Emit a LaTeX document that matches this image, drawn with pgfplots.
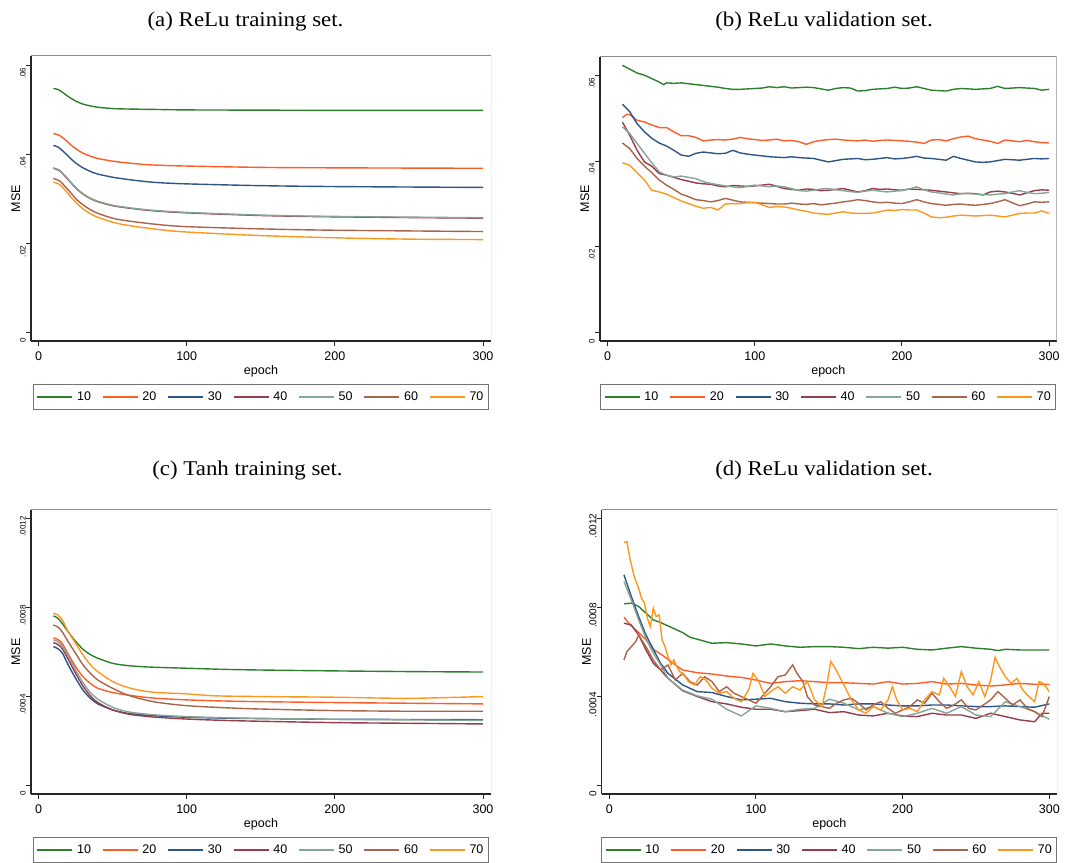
\documentclass[border=0pt]{standalone}
\usepackage{pgfplots}
\pgfplotsset{compat=1.18}
\usepackage{fontspec}
\setmainfont{Liberation Sans}
\newfontfamily\timesfont{Liberation Serif}
\usepackage{graphicx}

\definecolor{c10}{RGB}{44,128,44}
\definecolor{c20}{RGB}{255,92,40}
\definecolor{c30}{RGB}{45,85,135}
\definecolor{c40}{RGB}{150,60,75}
\definecolor{c50}{RGB}{135,165,150}
\definecolor{c60}{RGB}{170,100,75}
\definecolor{c70}{RGB}{255,150,30}

\pgfplotsset{
  statastyle/.style={
    scale only axis,
    anchor=south west,
    axis x line*=bottom, axis y line*=left,
    axis line style={line width=1.3pt, color=black!85},
    tick align=outside,
    major tick length=5pt,
    tick style={line width=1pt, color=black!85},
    xtick={0,100,200,300},
    minor tick num=0,
    scaled ticks=false,
    /pgf/number format/assume math mode=true,
    xticklabel style={font=\fontsize{12.5}{14}\selectfont, inner sep=0pt, anchor=north, yshift=-6pt},
    yticklabel style={rotate=90, anchor=south, inner sep=0pt, xshift=-8pt},
    xlabel={epoch},
    ylabel={MSE},
    every axis x label/.style={at={(axis description cs:0.5,-0.118)}, anchor=base, font=\fontsize{12.5}{14}\selectfont},
    every axis y label/.style={at={(axis description cs:-0.033,0.5)}, anchor=center, rotate=90, font=\fontsize{12.5}{14}\selectfont},
    legend columns=7,
    legend image code/.code={\draw[#1, line width=1.5pt] (0pt,0pt) -- (35pt,0pt);},
    legend style={at={(0.5,-0.151)}, anchor=north, draw=black!55, line width=1pt,
      font=\fontsize{12.5}{14}\selectfont, inner xsep=3pt, inner ysep=5.5pt,
      /tikz/every odd column/.append style={column sep=2pt},
      /tikz/every even column/.append style={column sep=9pt}},
    every axis plot/.append style={line width=1.4pt, mark=none},
    cycle list={{draw=c10},{draw=c20},{draw=c30},{draw=c40},{draw=c50},{draw=c60},{draw=c70}},
  },
  topy/.style={ytick={0,0.02,0.04,0.06}, yticklabels={0,.02,.04,.06}, yticklabel style={font=\fontsize{8}{9}\selectfont}},
  boty/.style={ytick={0,0.0004,0.0008,0.0012}, yticklabels={0,.0004,.0008,.0012}},
}
\newcommand{\grayframe}{\draw[black!45, line width=1pt] (rel axis cs:0,1) -- (rel axis cs:1,1) -- (rel axis cs:1,0);}

\begin{document}
\begin{tikzpicture}
\useasboundingbox (0pt,0pt) rectangle (1083pt,862pt);

% titles
\node[font=\timesfont\fontsize{21}{25}\selectfont, anchor=base] at (245.5pt,835pt) {\scalebox{1.09}[1]{(a) ReLu training set.}};
\node[font=\timesfont\fontsize{21}{25}\selectfont, anchor=base] at (824pt,835pt) {\scalebox{1.09}[1]{(b) ReLu validation set.}};
\node[font=\timesfont\fontsize{21}{25}\selectfont, anchor=base] at (247.5pt,386pt) {\scalebox{1.09}[1]{(c) Tanh training set.}};
\node[font=\timesfont\fontsize{21}{25}\selectfont, anchor=base] at (824pt,386pt) {\scalebox{1.09}[1]{(d) ReLu validation set.}};

% (a)
\begin{axis}[statastyle, topy, at={(31pt,521pt)}, width=460pt, height=285pt,
  xmin=-5.1, xmax=305.4, ymin=-0.00186, ymax=0.0621]
\addplot+[smooth] coordinates {(10,0.0548)(13,0.0546)(16,0.0540)(20,0.0530)(25,0.0520)(30,0.0513)(35,0.0509)(40,0.0506)(50,0.0503)(60,0.0502)(80,0.0501)(100,0.0500)(150,0.04995)(200,0.0499)(300,0.0499)};
\addplot+[smooth] coordinates {(10,0.0447)(14,0.0443)(18,0.0433)(22,0.0421)(26,0.0411)(30,0.0403)(35,0.0396)(40,0.0391)(50,0.0385)(60,0.0381)(70,0.0378)(80,0.0376)(100,0.0374)(150,0.0371)(200,0.0370)(300,0.0369)};
\addplot+[smooth] coordinates {(10,0.0420)(13,0.0417)(17,0.0406)(21,0.0393)(25,0.0381)(30,0.0370)(35,0.0362)(40,0.0356)(50,0.0349)(60,0.0344)(70,0.0340)(80,0.0337)(100,0.0334)(150,0.0330)(200,0.0328)(300,0.0326)};
\addplot+[smooth] coordinates {(10,0.0369)(14,0.0364)(18,0.0351)(22,0.0336)(26,0.0322)(30,0.0311)(35,0.0301)(40,0.0294)(50,0.0285)(60,0.0280)(70,0.0276)(80,0.0273)(100,0.0269)(150,0.0263)(200,0.0260)(300,0.0257)};
\addplot+[smooth] coordinates {(10,0.0370)(14,0.0365)(18,0.0352)(22,0.0337)(26,0.0323)(30,0.0312)(35,0.0302)(40,0.0295)(50,0.0286)(60,0.0281)(70,0.0277)(80,0.0274)(100,0.0270)(150,0.0264)(200,0.0261)(300,0.0258)};
\addplot+[smooth] coordinates {(10,0.0346)(14,0.0341)(18,0.0328)(22,0.0313)(26,0.0298)(30,0.0287)(35,0.0276)(40,0.0268)(50,0.0257)(60,0.0251)(80,0.0243)(100,0.0238)(150,0.0233)(200,0.0230)(300,0.0227)};
\addplot+[smooth] coordinates {(10,0.0338)(14,0.0333)(18,0.0320)(22,0.0304)(26,0.0290)(30,0.0278)(35,0.0267)(40,0.0259)(50,0.0248)(60,0.0241)(80,0.0232)(100,0.0226)(150,0.0218)(200,0.0213)(250,0.0210)(300,0.0209)};
\legend{10,20,30,40,50,60,70}
\grayframe
\end{axis}

% (b)
\begin{axis}[statastyle, topy, at={(600pt,521pt)}, width=456.7pt, height=284.3pt,
  xmin=-5.2, xmax=305.2, ymin=-0.0019, ymax=0.0643]
\addplot+[] coordinates {(10,0.0623)(15,0.0614)(20,0.0605)(25,0.0600)(30,0.0592)(35,0.0584)(38,0.0578)(40,0.0582)(45,0.0581)(50,0.0582)(55,0.0580)(60,0.0578)(65,0.0576)(70,0.0574)(75,0.0572)(80,0.0569)(85,0.0567)(90,0.0567)(95,0.0568)(100,0.0569)(105,0.0570)(110,0.0573)(115,0.0571)(120,0.0573)(125,0.0570)(130,0.0571)(135,0.0572)(140,0.0571)(145,0.0568)(150,0.0565)(155,0.0569)(160,0.0571)(165,0.0570)(170,0.0563)(175,0.0564)(180,0.0567)(185,0.0568)(190,0.0569)(195,0.0572)(200,0.0569)(205,0.0570)(210,0.0573)(215,0.0569)(220,0.0565)(225,0.0564)(230,0.0563)(235,0.0567)(240,0.0569)(245,0.0568)(250,0.0567)(255,0.0568)(260,0.0569)(265,0.0574)(270,0.0569)(275,0.0570)(280,0.0571)(285,0.0570)(290,0.0569)(295,0.0565)(300,0.0567)};
\addplot+[] coordinates {(10,0.0501)(13,0.0509)(15,0.0508)(20,0.0495)(25,0.0491)(30,0.0484)(35,0.0478)(40,0.0478)(45,0.0468)(50,0.0459)(55,0.0459)(60,0.0455)(65,0.0447)(70,0.0449)(75,0.0450)(80,0.0449)(85,0.0451)(90,0.0455)(95,0.0452)(100,0.0450)(105,0.0448)(110,0.0449)(115,0.0451)(120,0.0447)(125,0.0448)(130,0.0445)(135,0.0439)(140,0.0445)(145,0.0448)(150,0.0450)(155,0.0451)(160,0.0449)(165,0.0448)(170,0.0447)(175,0.0449)(180,0.0446)(185,0.0448)(190,0.0449)(195,0.0448)(200,0.0447)(205,0.0446)(210,0.0444)(215,0.0441)(220,0.0449)(225,0.0450)(230,0.0447)(235,0.0452)(240,0.0456)(245,0.0458)(250,0.0452)(255,0.0449)(260,0.0446)(265,0.0441)(270,0.0449)(275,0.0447)(280,0.0445)(285,0.0448)(290,0.0445)(295,0.0443)(300,0.0442)};
\addplot+[] coordinates {(10,0.0532)(15,0.0515)(20,0.0487)(25,0.0468)(30,0.0453)(35,0.0442)(40,0.0435)(45,0.0425)(50,0.0414)(55,0.0411)(60,0.0418)(65,0.0421)(70,0.0419)(75,0.0417)(80,0.0418)(85,0.0425)(90,0.0419)(95,0.0416)(100,0.0414)(105,0.0412)(110,0.0410)(115,0.0409)(120,0.0408)(125,0.0410)(130,0.0408)(135,0.0407)(140,0.0406)(145,0.0402)(150,0.0398)(155,0.0401)(160,0.0404)(165,0.0405)(170,0.0406)(175,0.0403)(180,0.0404)(185,0.0406)(190,0.0408)(195,0.0405)(200,0.0406)(205,0.0408)(210,0.0411)(215,0.0407)(220,0.0406)(225,0.0404)(230,0.0402)(235,0.0411)(240,0.0406)(245,0.0402)(250,0.0398)(255,0.0397)(260,0.0398)(265,0.0401)(270,0.0404)(275,0.0403)(280,0.0402)(285,0.0404)(290,0.0406)(295,0.0405)(300,0.0406)};
\addplot+[] coordinates {(10,0.0491)(15,0.0460)(20,0.0425)(25,0.0398)(30,0.0388)(35,0.0371)(40,0.0367)(45,0.0362)(50,0.0357)(55,0.0353)(60,0.0349)(65,0.0347)(70,0.0346)(75,0.0342)(80,0.0340)(85,0.0343)(90,0.0342)(95,0.0341)(100,0.0342)(105,0.0344)(110,0.0346)(115,0.0341)(120,0.0336)(125,0.0334)(130,0.0332)(135,0.0335)(140,0.0334)(145,0.0331)(150,0.0332)(155,0.0334)(160,0.0336)(165,0.0332)(170,0.0328)(175,0.0331)(180,0.0336)(185,0.0334)(190,0.0335)(195,0.0333)(200,0.0332)(205,0.0335)(210,0.0334)(215,0.0333)(220,0.0332)(225,0.0330)(230,0.0328)(235,0.0326)(240,0.0324)(245,0.0325)(250,0.0324)(255,0.0321)(260,0.0328)(265,0.0330)(270,0.0328)(275,0.0325)(280,0.0321)(285,0.0326)(290,0.0331)(295,0.0333)(300,0.0332)};
\addplot+[] coordinates {(10,0.0480)(15,0.0464)(20,0.0441)(25,0.0418)(30,0.0396)(35,0.0375)(40,0.0367)(45,0.0363)(50,0.0365)(55,0.0362)(60,0.0359)(65,0.0352)(70,0.0348)(75,0.0345)(80,0.0342)(85,0.0340)(90,0.0338)(95,0.0341)(100,0.0344)(105,0.0342)(110,0.0340)(115,0.0342)(120,0.0340)(125,0.0336)(130,0.0331)(135,0.0330)(140,0.0332)(145,0.0335)(150,0.0336)(155,0.0333)(160,0.0331)(165,0.0329)(170,0.0327)(175,0.0330)(180,0.0332)(185,0.0330)(190,0.0328)(195,0.0330)(200,0.0331)(205,0.0335)(210,0.0340)(215,0.0333)(220,0.0328)(225,0.0326)(230,0.0323)(235,0.0321)(240,0.0324)(245,0.0324)(250,0.0323)(255,0.0322)(260,0.0321)(265,0.0323)(270,0.0324)(275,0.0328)(280,0.0331)(285,0.0327)(290,0.0324)(295,0.0325)(300,0.0327)};
\addplot+[] coordinates {(10,0.0442)(15,0.0429)(20,0.0406)(25,0.0388)(30,0.0373)(35,0.0356)(40,0.0344)(45,0.0334)(50,0.0323)(55,0.0317)(60,0.0310)(65,0.0308)(70,0.0305)(75,0.0308)(80,0.0313)(85,0.0309)(90,0.0305)(95,0.0304)(100,0.0303)(105,0.0302)(110,0.0301)(115,0.0300)(120,0.0300)(125,0.0302)(130,0.0300)(135,0.0299)(140,0.0301)(145,0.0298)(150,0.0300)(155,0.0302)(160,0.0305)(165,0.0307)(170,0.0310)(175,0.0308)(180,0.0305)(185,0.0303)(190,0.0304)(195,0.0302)(200,0.0301)(205,0.0305)(210,0.0310)(215,0.0305)(220,0.0301)(225,0.0299)(230,0.0297)(235,0.0299)(240,0.0300)(245,0.0298)(250,0.0297)(255,0.0299)(260,0.0301)(265,0.0305)(270,0.0310)(275,0.0303)(280,0.0296)(285,0.0300)(290,0.0305)(295,0.0304)(300,0.0305)};
\addplot+[] coordinates {(10,0.0396)(15,0.0390)(20,0.0373)(25,0.0356)(30,0.0332)(35,0.0328)(40,0.0323)(45,0.0315)(50,0.0307)(55,0.0301)(60,0.0295)(65,0.0290)(70,0.0292)(75,0.0286)(80,0.0300)(85,0.0301)(90,0.0301)(95,0.0303)(100,0.0304)(105,0.0298)(110,0.0292)(115,0.0294)(120,0.0293)(125,0.0290)(130,0.0286)(135,0.0283)(140,0.0279)(145,0.0277)(150,0.0276)(155,0.0279)(160,0.0282)(165,0.0279)(170,0.0278)(175,0.0278)(180,0.0279)(185,0.0282)(190,0.0286)(195,0.0285)(200,0.0287)(205,0.0286)(210,0.0286)(215,0.0279)(220,0.0270)(225,0.0268)(230,0.0269)(235,0.0272)(240,0.0274)(245,0.0273)(250,0.0272)(255,0.0273)(260,0.0274)(265,0.0272)(270,0.0270)(275,0.0274)(280,0.0278)(285,0.0279)(290,0.0279)(295,0.0284)(300,0.0278)};
\legend{10,20,30,40,50,60,70}
\grayframe
\end{axis}

% (c)
\begin{axis}[statastyle, boty, yticklabel style={font=\fontsize{8}{9}\selectfont}, at={(31pt,68pt)}, width=460pt, height=284pt,
  xmin=-5.1, xmax=305.4, ymin=-0.0000373, ymax=0.001237]
\addplot+[smooth] coordinates {(10,0.000762)(13,0.000752)(16,0.000728)(20,0.000690)(25,0.000648)(30,0.000612)(35,0.000588)(40,0.000572)(50,0.000549)(60,0.000539)(70,0.000534)(80,0.000531)(100,0.000527)(125,0.000522)(150,0.000519)(200,0.000515)(250,0.000512)(300,0.000510)};
\addplot+[smooth] coordinates {(10,0.000663)(13,0.000656)(16,0.000638)(20,0.000591)(25,0.000534)(30,0.000489)(35,0.000459)(40,0.000437)(50,0.000418)(60,0.000407)(70,0.000398)(80,0.000392)(100,0.000385)(125,0.000380)(150,0.000377)(200,0.000373)(250,0.000370)(300,0.000367)};
\addplot+[smooth] coordinates {(10,0.000624)(13,0.000615)(16,0.000596)(20,0.000542)(25,0.000482)(30,0.000429)(35,0.000392)(40,0.000367)(50,0.000340)(60,0.000325)(70,0.000318)(80,0.000313)(100,0.000307)(125,0.000303)(150,0.000301)(200,0.000298)(250,0.000297)(300,0.000296)};
\addplot+[smooth] coordinates {(10,0.000642)(13,0.000634)(16,0.000615)(20,0.000567)(25,0.000504)(30,0.000447)(35,0.000403)(40,0.000373)(50,0.000340)(60,0.000322)(70,0.000313)(80,0.000307)(100,0.000299)(125,0.000293)(150,0.000289)(200,0.000283)(250,0.000280)(300,0.000277)};
\addplot+[smooth] coordinates {(10,0.000654)(13,0.000647)(16,0.000628)(20,0.000582)(25,0.000519)(30,0.000462)(35,0.000418)(40,0.000388)(50,0.000352)(60,0.000332)(70,0.000323)(80,0.000317)(100,0.000310)(125,0.000305)(150,0.000302)(200,0.000298)(250,0.000295)(300,0.000293)};
\addplot+[smooth] coordinates {(10,0.000721)(13,0.000712)(16,0.000690)(20,0.000646)(25,0.000594)(30,0.000542)(35,0.000504)(40,0.000474)(50,0.000437)(60,0.000407)(70,0.000388)(80,0.000374)(100,0.000359)(125,0.000350)(150,0.000344)(200,0.000337)(250,0.000334)(300,0.000334)};
\addplot+[smooth] coordinates {(10,0.000774)(13,0.000766)(16,0.000744)(20,0.000691)(25,0.000639)(30,0.000587)(35,0.000542)(40,0.000512)(50,0.000467)(60,0.000441)(70,0.000426)(80,0.000418)(100,0.000412)(120,0.000403)(150,0.000400)(200,0.000397)(250,0.000392)(300,0.000400)};
\legend{10,20,30,40,50,60,70}
\grayframe
\end{axis}

% (d)
\begin{axis}[statastyle, boty, yticklabel style={font=\fontsize{10}{11}\selectfont}, at={(601.7pt,68pt)}, width=455.3pt, height=284pt,
  xmin=-5.18, xmax=305.25, ymin=-0.0000373, ymax=0.001237]
\addplot+[] coordinates {(10,0.000816)(15,0.000819)(20,0.000804)(25,0.000774)(30,0.000744)(35,0.000732)(40,0.000717)(45,0.000702)(50,0.000687)(55,0.000666)(60,0.000657)(70,0.000639)(80,0.000642)(90,0.000636)(100,0.000627)(110,0.000636)(120,0.000627)(130,0.000621)(140,0.000624)(150,0.000624)(160,0.000621)(170,0.000615)(180,0.000621)(190,0.000617)(200,0.000621)(210,0.000612)(220,0.000609)(230,0.000617)(240,0.000624)(250,0.000617)(260,0.000612)(265,0.000606)(270,0.000612)(280,0.000609)(290,0.000609)(300,0.000609)};
\addplot+[] coordinates {(10,0.000756)(15,0.000717)(20,0.000687)(25,0.000654)(30,0.000612)(35,0.000591)(40,0.000567)(45,0.000542)(50,0.000519)(60,0.000507)(70,0.000501)(80,0.000492)(90,0.000486)(100,0.000474)(110,0.000459)(120,0.000467)(130,0.000471)(140,0.000467)(150,0.000462)(160,0.000462)(170,0.000459)(180,0.000456)(190,0.000467)(200,0.000456)(210,0.000459)(220,0.000467)(230,0.000456)(240,0.000459)(250,0.000452)(260,0.000447)(270,0.000452)(280,0.000459)(290,0.000455)(300,0.000455)};
\addplot+[] coordinates {(10,0.000946)(15,0.000849)(20,0.000759)(25,0.000676)(30,0.000612)(35,0.000549)(40,0.000504)(50,0.000452)(60,0.000422)(70,0.000418)(80,0.000400)(90,0.000385)(100,0.000388)(110,0.000392)(120,0.000377)(130,0.000370)(140,0.000367)(150,0.000367)(160,0.000362)(170,0.000367)(180,0.000367)(190,0.000362)(200,0.000358)(210,0.000358)(220,0.000362)(230,0.000362)(240,0.000358)(250,0.000355)(260,0.000355)(270,0.000358)(280,0.000355)(290,0.000352)(300,0.000367)};
\addplot+[] coordinates {(10,0.000729)(15,0.000721)(20,0.000676)(25,0.000609)(30,0.000549)(35,0.000519)(40,0.000482)(50,0.000426)(60,0.000400)(70,0.000377)(80,0.000367)(90,0.000352)(100,0.000343)(110,0.000343)(120,0.000332)(130,0.000337)(140,0.000343)(150,0.000328)(160,0.000332)(170,0.000317)(180,0.000313)(190,0.000325)(200,0.000313)(210,0.000310)(220,0.000325)(230,0.000317)(240,0.000317)(250,0.000302)(260,0.000325)(270,0.000310)(280,0.000295)(290,0.000287)(295,0.000325)(300,0.000325)};
\addplot+[] coordinates {(10,0.000916)(15,0.000834)(20,0.000744)(25,0.000661)(30,0.000594)(35,0.000542)(40,0.000482)(50,0.000429)(60,0.000403)(70,0.000388)(80,0.000343)(90,0.000313)(100,0.000358)(110,0.000347)(120,0.000332)(130,0.000343)(140,0.000347)(150,0.000388)(160,0.000370)(170,0.000340)(180,0.000355)(190,0.000325)(200,0.000310)(210,0.000325)(220,0.000347)(230,0.000325)(240,0.000355)(250,0.000317)(260,0.000310)(270,0.000377)(280,0.000355)(290,0.000332)(300,0.000298)};
\addplot+[] coordinates {(10,0.000564)(12,0.000602)(15,0.000624)(18,0.000646)(20,0.000676)(22,0.000654)(25,0.000624)(30,0.000564)(35,0.000519)(40,0.000542)(45,0.000474)(50,0.000504)(55,0.000467)(60,0.000452)(65,0.000489)(70,0.000467)(75,0.000422)(80,0.000444)(85,0.000415)(90,0.000400)(95,0.000385)(100,0.000370)(105,0.000407)(110,0.000444)(115,0.000489)(120,0.000497)(125,0.000542)(128,0.000504)(132,0.000467)(135,0.000400)(140,0.000362)(145,0.000355)(150,0.000347)(155,0.000370)(160,0.000385)(165,0.000392)(170,0.000370)(175,0.000340)(180,0.000362)(185,0.000377)(190,0.000347)(195,0.000325)(200,0.000340)(205,0.000355)(210,0.000385)(215,0.000370)(220,0.000415)(225,0.000377)(230,0.000347)(235,0.000362)(240,0.000385)(245,0.000347)(250,0.000340)(255,0.000362)(260,0.000385)(265,0.000422)(270,0.000392)(275,0.000362)(280,0.000385)(285,0.000347)(290,0.000332)(295,0.000310)(300,0.000400)};
\addplot+[] coordinates {(10,0.001091)(12,0.001095)(14,0.001021)(17,0.000938)(20,0.000886)(22,0.000841)(24,0.000819)(26,0.000751)(28,0.000714)(30,0.000796)(32,0.000759)(34,0.000766)(36,0.000654)(38,0.000624)(40,0.000579)(42,0.000542)(44,0.000564)(46,0.000534)(48,0.000512)(50,0.000504)(54,0.000467)(58,0.000452)(62,0.000489)(66,0.000474)(70,0.000437)(75,0.000415)(80,0.000422)(85,0.000392)(90,0.000377)(95,0.000429)(98,0.000504)(102,0.000467)(106,0.000400)(110,0.000422)(115,0.000444)(120,0.000415)(125,0.000444)(130,0.000429)(135,0.000467)(140,0.000385)(145,0.000355)(148,0.000444)(151,0.000557)(154,0.000527)(157,0.000489)(160,0.000452)(165,0.000385)(170,0.000340)(175,0.000325)(180,0.000355)(185,0.000340)(190,0.000385)(193,0.000444)(196,0.000385)(200,0.000340)(205,0.000347)(210,0.000332)(215,0.000385)(220,0.000422)(225,0.000407)(228,0.000482)(232,0.000444)(236,0.000400)(240,0.000512)(244,0.000444)(248,0.000407)(252,0.000467)(256,0.000400)(260,0.000474)(263,0.000576)(266,0.000534)(270,0.000489)(274,0.000459)(278,0.000482)(282,0.000429)(286,0.000400)(290,0.000377)(293,0.000467)(296,0.000459)(300,0.000422)};
\legend{10,20,30,40,50,60,70}
\grayframe
\end{axis}
\end{tikzpicture}
\end{document}
